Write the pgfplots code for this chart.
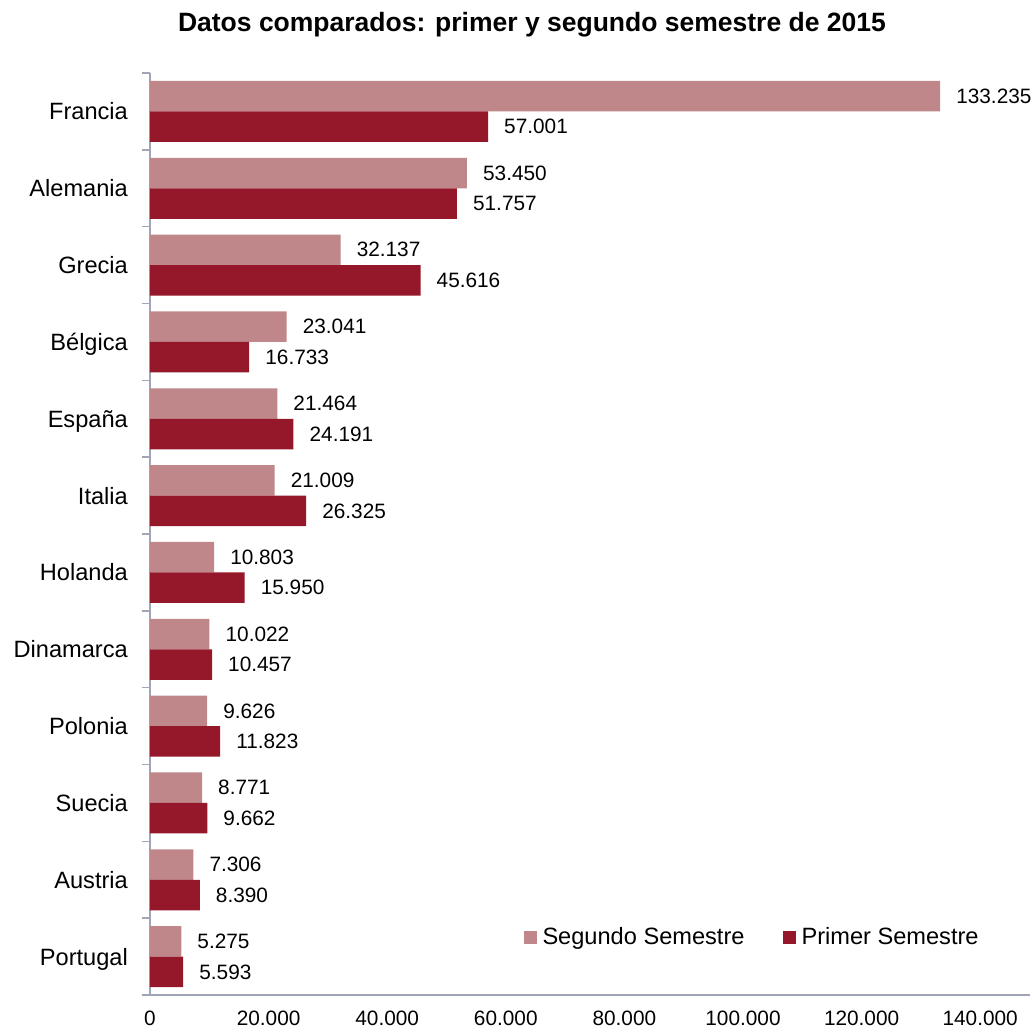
\documentclass[border=0pt]{standalone}
\usepackage{pgfplots}
\pgfplotsset{compat=1.18}
\usepackage{fontspec}
\setmainfont{Liberation Sans}
\definecolor{lightbar}{RGB}{191,135,138}
\definecolor{darkbar}{RGB}{148,23,42}
\definecolor{axisgray}{RGB}{160,165,185}
\begin{document}
\begin{tikzpicture}
\begin{axis}[
  name=ax,
  at={(0,0)}, anchor=south west,
  scale only axis,
  width=880bp, height=922bp,
  xbar,
  y dir=reverse,
  xmin=0, xmax=148400,
  ymin=-0.5, ymax=11.5,
  axis x line*=bottom, axis y line*=left,
  axis line style={-, draw=axisgray, line width=1.5bp},
  xtick={0,20000,40000,60000,80000,100000,120000,140000},
  scaled x ticks=false,
  ytick={0,...,11},
  yticklabels={Francia,Alemania,Grecia,Bélgica,España,Italia,Holanda,Dinamarca,Polonia,Suecia,Austria,Portugal},
  minor ytick={-0.5,0.5,...,11.5},
  major tick length=0pt, minor tick length=8bp,
  tick align=outside,
  tick style={draw=axisgray, line width=1.5bp},
  /pgf/number format/.cd, fixed, precision=0, 1000 sep={.}, assume math mode=true,
  /pgfplots/.cd,
  xticklabel style={font=\fontsize{20.8bp}{24bp}\selectfont, anchor=north, inner sep=0pt, yshift=-16bp},
  yticklabel style={font=\fontsize{23.6bp}{28bp}\selectfont, anchor=base east, inner sep=0pt, xshift=-22bp, yshift=-8.5bp},
  bar width=30.5bp,
  nodes near coords,
  every node near coord/.append style={font=\fontsize{20.8bp}{24bp}\selectfont, anchor=west, inner sep=0pt, xshift=16bp, text=black},
  legend columns=2,
  legend style={draw=none, fill=none, at={(0.683,0.0629)}, anchor=center, inner sep=0pt,
    font=\fontsize{23.6bp}{28bp}\selectfont,
    nodes={inner sep=0pt},
    /tikz/every odd column/.append style={column sep=6bp},
    /tikz/every even column/.append style={column sep=38bp}},
  legend image code/.code={\fill[#1] (0bp,-6.5bp) rectangle (13bp,6.5bp);},
]
\addplot[fill=lightbar, draw=none, bar shift=15.25bp] coordinates {
(133235,0) (53450,1) (32137,2) (23041,3) (21464,4) (21009,5)
(10803,6) (10022,7) (9626,8) (8771,9) (7306,10) (5275,11)};
\addlegendentry{Segundo Semestre}
\addplot[fill=darkbar, draw=none, bar shift=-15.25bp] coordinates {
(57001,0) (51757,1) (45616,2) (16733,3) (24191,4) (26325,5)
(15950,6) (10457,7) (11823,8) (9662,9) (8390,10) (5593,11)};
\addlegendentry{Primer Semestre}
\end{axis}
\node[anchor=base, font=\bfseries\fontsize{26.5bp}{30bp}\selectfont] at (382bp,963bp) {Datos comparados: primer y segundo semestre de 2015};
\pgfresetboundingbox
\path[use as bounding box] (-150bp,-37bp) rectangle (884bp,995bp);
\end{tikzpicture}
\end{document}
